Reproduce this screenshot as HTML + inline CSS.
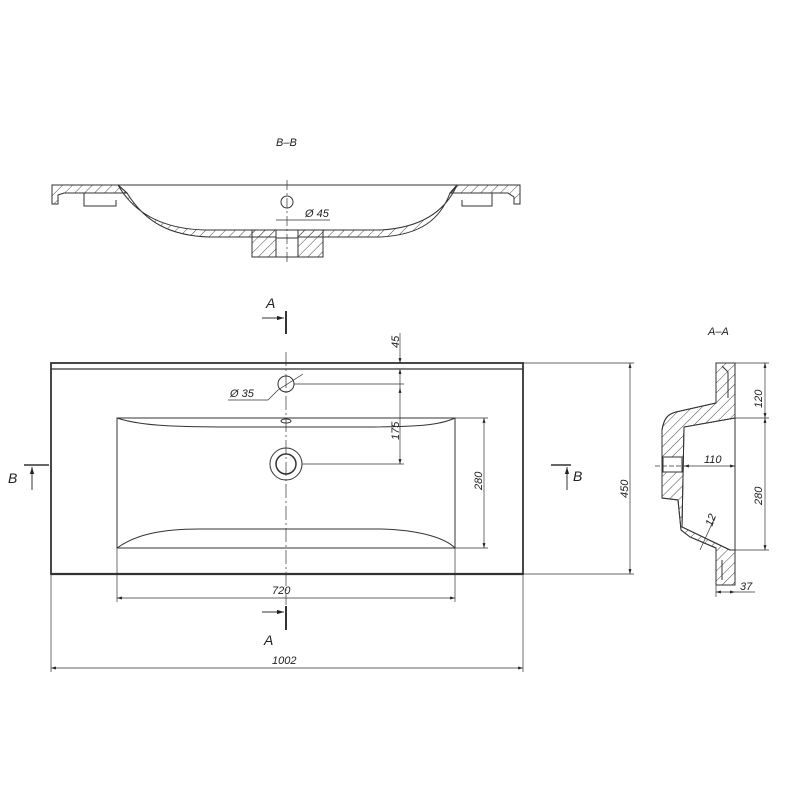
<!DOCTYPE html>
<html><head><meta charset="utf-8"><style>
html,body{margin:0;padding:0;background:#fff;}
svg{display:block;}
text{font-family:"Liberation Sans",sans-serif;font-style:italic;font-size:11px;fill:#222;}
</style></head><body>
<svg width="800" height="800" viewBox="0 0 800 800" xmlns="http://www.w3.org/2000/svg">
<defs>
<pattern id="h" width="7" height="7" patternUnits="userSpaceOnUse" patternTransform="rotate(45)">
<line x1="0" y1="0" x2="0" y2="7" stroke="#333" stroke-width="0.9"/>
</pattern>
<marker id="ar" viewBox="0 0 10 10" refX="10" refY="5" markerWidth="7" markerHeight="7" orient="auto-start-reverse">
<path d="M0,2 L10,5 L0,8 z" fill="#222"/>
</marker>
</defs>
<g stroke="#333" fill="none" stroke-width="1">

<!-- B-B section -->
<text x="276" y="146" stroke="none">B–B</text>
<!-- left rim -->
<path d="M52,185 L118,185 L127,193 L64,193 L58,195 L58,204 L52,204 Z" fill="url(#h)"/>
<!-- right rim -->
<path d="M457,185 L520,185 L520,204 L514,204 L514,197 L508,193 L450,193 Z" fill="url(#h)"/>
<!-- bowl wall -->
<path d="M118,185 C135,215 165,229 205,230 L380,230 C420,228 445,212 457,185 L450,193 C440,220 420,235 380,237 L210,237 C170,236 145,222 127,193 Z" fill="url(#h)"/>
<line x1="52" y1="185" x2="520" y2="185"/>
<!-- ribs -->
<path d="M84,193 L84,206 L116,206 L116,200"/>
<path d="M492,193 L492,206 L462,206 L462,200"/>
<!-- drain boss -->
<path d="M252,230 L252,257 L323,257 L323,230" fill="url(#h)"/>
<rect x="276" y="230" width="22" height="27" fill="#fff"/>
<line x1="276" y1="238" x2="298" y2="238"/>
<circle cx="287" cy="202" r="6"/>
<line x1="287" y1="180" x2="287" y2="262" stroke-dasharray="10,3,2,3" stroke-width="0.7"/>
<line x1="276" y1="220" x2="330" y2="220" stroke-width="0.7"/>
<text x="305" y="217" stroke="none">Ø 45</text>

<!-- Plan view -->
<rect x="51" y="363" width="472" height="211" stroke-width="1.8"/>
<line x1="51" y1="369" x2="523" y2="369" stroke-width="1.2"/>
<line x1="51" y1="574" x2="523" y2="574" stroke-width="2.2"/>
<path d="M117,418 L455,418 L455,548 L117,548 Z"/>
<path d="M117,418 C140,426 180,427 230,427 L360,427 C420,427 440,425 455,418"/>
<path d="M117,548 C135,535 160,529 200,529 L380,529 C420,530 445,538 455,548"/>
<circle cx="286" cy="384" r="8"/>
<ellipse cx="286" cy="421" rx="5" ry="2"/>
<circle cx="286" cy="464" r="16"/>
<circle cx="286" cy="464" r="10" stroke-width="1.5"/>
<line x1="286" y1="352" x2="286" y2="605" stroke-dasharray="14,3,2,3" stroke-width="0.7"/>

<!-- Section A marks -->
<text x="266" y="308" stroke="none" style="font-size:14px">A</text>
<line x1="262" y1="318" x2="284" y2="318" marker-end="url(#ar)"/>
<line x1="286" y1="311" x2="286" y2="334" stroke-width="2"/>
<line x1="262" y1="612" x2="284" y2="612" marker-end="url(#ar)"/>
<line x1="286" y1="606" x2="286" y2="630" stroke-width="2"/>
<text x="264" y="645" stroke="none" style="font-size:14px">A</text>
<!-- Section B marks -->
<text x="8" y="483" stroke="none" style="font-size:14px">B</text>
<line x1="24" y1="465" x2="49" y2="465" stroke-width="1.5"/>
<line x1="32" y1="490" x2="32" y2="467" marker-end="url(#ar)"/>
<line x1="551" y1="465" x2="571" y2="465" stroke-width="1.5"/>
<line x1="567" y1="490" x2="567" y2="467" marker-end="url(#ar)"/>
<text x="573" y="481" stroke="none" style="font-size:14px">B</text>

<!-- dims -->
<g stroke-width="0.7">
<line x1="400" y1="333" x2="400" y2="363" marker-end="url(#ar)"/>
<line x1="400" y1="392" x2="400" y2="369" marker-end="url(#ar)"/>
<line x1="294" y1="384" x2="404" y2="384"/>
<line x1="400" y1="388" x2="400" y2="464" marker-start="url(#ar)" marker-end="url(#ar)"/>
<line x1="302" y1="464" x2="404" y2="464"/>
<line x1="455" y1="418" x2="488" y2="418"/>
<line x1="455" y1="548" x2="488" y2="548"/>
<line x1="484" y1="418" x2="484" y2="548" marker-start="url(#ar)" marker-end="url(#ar)"/>
<line x1="523" y1="363" x2="634" y2="363"/>
<line x1="523" y1="574" x2="634" y2="574"/>
<line x1="630" y1="363" x2="630" y2="574" marker-start="url(#ar)" marker-end="url(#ar)"/>
<line x1="117" y1="548" x2="117" y2="602"/>
<line x1="455" y1="548" x2="455" y2="602"/>
<line x1="117" y1="598" x2="455" y2="598" marker-start="url(#ar)" marker-end="url(#ar)"/>
<line x1="51" y1="574" x2="51" y2="672"/>
<line x1="523" y1="574" x2="523" y2="672"/>
<line x1="51" y1="668" x2="523" y2="668" marker-start="url(#ar)" marker-end="url(#ar)"/>
<line x1="303" y1="374" x2="278" y2="390"/>
<line x1="278" y1="390" x2="268" y2="400"/>
<line x1="268" y1="400" x2="228" y2="400"/>
</g>
<text x="230" y="397" stroke="none">Ø 35</text>
<text transform="translate(399,348) rotate(-90)" stroke="none">45</text>
<text transform="translate(399,440) rotate(-90)" stroke="none">175</text>
<text transform="translate(482,490) rotate(-90)" stroke="none">280</text>
<text transform="translate(628,498) rotate(-90)" stroke="none">450</text>
<text x="272" y="594" stroke="none">720</text>
<text x="272" y="664" stroke="none">1002</text>

<!-- A-A section -->
<text x="708" y="335" stroke="none">A–A</text>
<path fill-rule="evenodd" fill="url(#h)" d="M716,363 L735,363 L735,585 L716,585 L716,548 L690,537 L681,530 L678,500 L662,498 L662,430 C664,418 668,414 676,412 L716,403 Z
 M735,418 L684,427 L682,527 L730,550 L735,550 Z"/>
<path d="M716,363 L735,363 L735,585 L716,585 L716,548 L690,537 L681,530 L678,500 L662,498 L662,430 C664,418 668,414 676,412 L716,403 Z"/>
<path d="M735,418 L684,427 L682,527 L730,550"/>
<rect x="663" y="457" width="19" height="15" fill="#fff"/>
<path d="M728,372 L728,398 M722,366 L728,372"/>
<path d="M722,560 L722,580"/>
<line x1="655" y1="466" x2="684" y2="466" stroke-dasharray="5,2" stroke-width="0.7"/>
<g stroke-width="0.7">
<line x1="735" y1="363" x2="769" y2="363"/>
<line x1="735" y1="418" x2="769" y2="418"/>
<line x1="735" y1="550" x2="769" y2="550"/>
<line x1="765" y1="363" x2="765" y2="418" marker-start="url(#ar)" marker-end="url(#ar)"/>
<line x1="765" y1="418" x2="765" y2="550" marker-start="url(#ar)" marker-end="url(#ar)"/>
<line x1="684" y1="466" x2="735" y2="466" marker-start="url(#ar)" marker-end="url(#ar)"/>
<line x1="716" y1="585" x2="716" y2="597"/>
<line x1="716" y1="592" x2="735" y2="592" marker-start="url(#ar)" marker-end="url(#ar)"/>
<line x1="735" y1="592" x2="755" y2="592"/>
<line x1="715" y1="517" x2="700" y2="550"/>
</g>
<text x="704" y="463" stroke="none">110</text>
<text transform="translate(762,408) rotate(-90)" stroke="none">120</text>
<text transform="translate(762,505) rotate(-90)" stroke="none">280</text>
<text transform="translate(712,527) rotate(-70)" stroke="none">12</text>
<text x="740" y="590" stroke="none">37</text>
</g>
</svg>
</body></html>
